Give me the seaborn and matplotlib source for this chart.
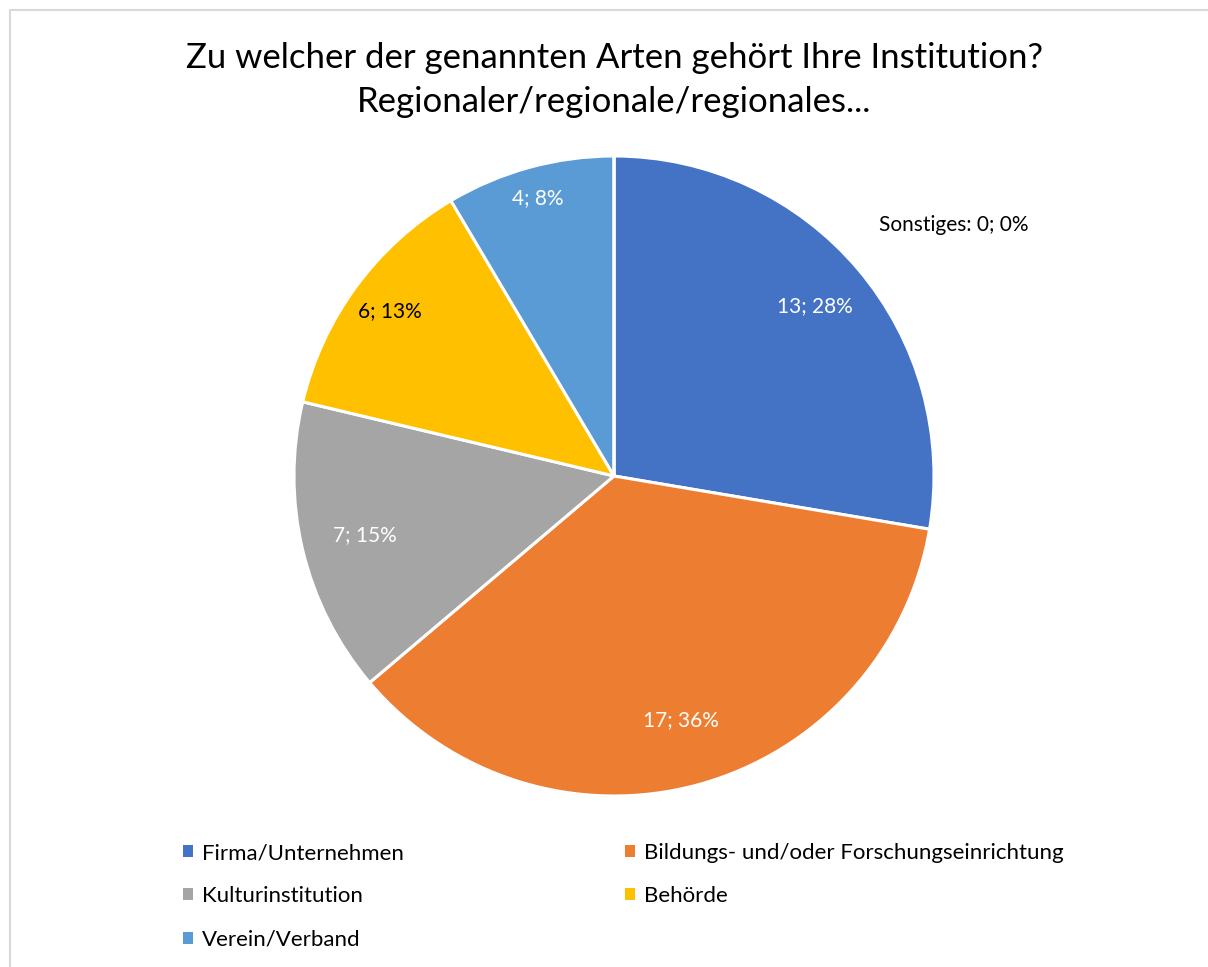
import numpy as np
import matplotlib
matplotlib.use("Agg")
import matplotlib.pyplot as plt
import matplotlib.patches as mpatches
import seaborn as sns

# ======================================
# DATA
# ======================================

categories = [
    "Firma/Unternehmen",
    "Bildungs- und/oder Forschungseinrichtung",
    "Kulturinstitution",
    "Behörde",
    "Verein/Verband",
    "Sonstiges",
]
counts = [13, 17, 7, 6, 4, 0]
percents = [28, 36, 15, 13, 8, 0]
colors = ["#4472C4", "#ED7D31", "#A5A5A5", "#FFC000", "#5B9BD5", "#264478"]
label_colors = ["white", "white", "white", "black", "white", "black"]
label_dist = [0.82, 0.79, 0.80, 0.87, 0.90, 1.32]

title = "Zu welcher der genannten Arten gehört Ihre Institution?\nRegionaler/regionale/regionales..."

# ======================================
# STYLE
# ======================================

sns.set_theme(style="white")
plt.rcParams["font.family"] = ["Lato", "DejaVu Sans"]
plt.rcParams["text.color"] = "black"

fig = plt.figure(figsize=(12.08, 9.67), dpi=100)
fig.patch.set_facecolor("white")

# chart border (only top/left visible, as in the crop)
fig.add_artist(mpatches.Rectangle(
    (10 / 1208, -0.1), 1.2, (967 - 10) / 967 + 0.1,
    transform=fig.transFigure, fill=False,
    edgecolor="#D9D9D9", linewidth=1.5
))

# ======================================
# PIE
# ======================================

ax = fig.add_axes([294 / 1208, 171 / 967, 640 / 1208, 640 / 967])

wedges, _ = ax.pie(
    counts,
    colors=colors,
    startangle=90,
    counterclock=False,
    radius=1,
    wedgeprops=dict(edgecolor="white", linewidth=2.2),
)
ax.set_xlim(-1, 1)
ax.set_ylim(-1, 1)
ax.set_aspect("equal")
ax.axis("off")

for i, w in enumerate(wedges):
    if counts[i] == 0:
        # Sonstiges label was moved off the top by the original tool
        ang = np.deg2rad(36.5)
        txt = f"{categories[i]}: {counts[i]}; {percents[i]}%"
    else:
        ang = np.deg2rad((w.theta1 + w.theta2) / 2)
        txt = f"{counts[i]}; {percents[i]}%"
    d = label_dist[i]
    ax.text(d * np.cos(ang), d * np.sin(ang), txt,
            ha="center", va="center", fontsize=15,
            color=label_colors[i], clip_on=False)

# ======================================
# TITLE
# ======================================

fig.text(614 / 1208, 1 - 80 / 967, title, ha="center", va="center",
         fontsize=25, linespacing=1.43)

# ======================================
# LEGEND (row-wise order, two columns)
# ======================================

handles = [mpatches.Patch(facecolor=c, edgecolor="none") for c in colors]
leg_kw = dict(
    loc="upper left", frameon=False, fontsize=16,
    handlelength=0.45, handleheight=0.45, handletextpad=0.4,
    labelspacing=1.05, borderpad=0, borderaxespad=0,
)

fig.legend(
    [handles[0], handles[2], handles[4]],
    [categories[0], categories[2], categories[4]],
    bbox_to_anchor=(183 / 1208, 1 - 843 / 967), **leg_kw
)
fig.legend(
    [handles[1], handles[3]],
    [categories[1], categories[3]],
    bbox_to_anchor=(625 / 1208, 1 - 843 / 967), **leg_kw
)

plt.savefig("out.png", dpi=100, facecolor="white")
